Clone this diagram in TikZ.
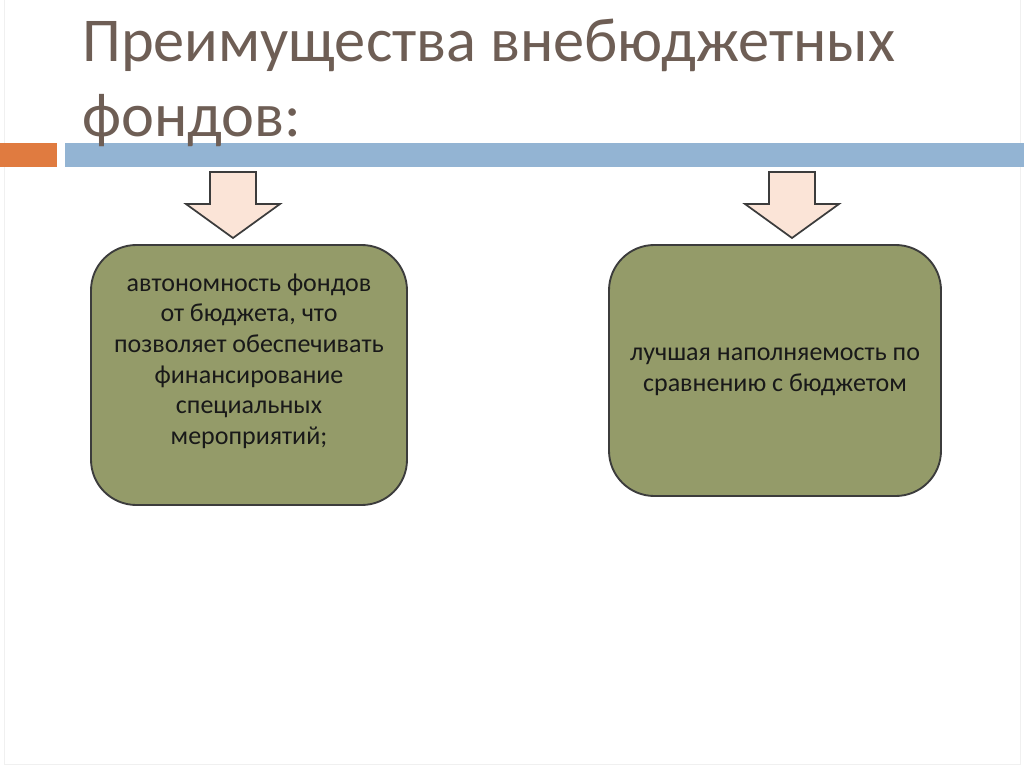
\documentclass[tikz,border=0pt]{standalone}
\usepackage{fontspec}
\setmainfont{Carlito}
\usetikzlibrary{positioning}
\definecolor{Title}{HTML}{6E5E55}
\definecolor{Orange}{HTML}{E07B40}
\definecolor{Blue}{HTML}{93B4D3}
\definecolor{Olive}{HTML}{949B69}
\definecolor{Peach}{HTML}{FBE4D7}
\definecolor{Ink}{HTML}{3C3C3C}

\begin{document}
\begin{tikzpicture}[x=0.75pt,y=-0.75pt,
  advbox/.style={draw=Ink,line width=1.4pt,fill=Olive,rounded corners=34pt,inner sep=0pt},
  advtext/.style={align=center,font=\fontsize{19.5}{23}\selectfont,text=black!90},
  downarrow/.style={draw=Ink,line width=1.3pt,fill=Peach,line join=miter}]
\useasboundingbox (0,0) rectangle (1024,767);
% Page frame and header bars.
\draw[black!6] (4,0)--(4,764)--(1020,764)--(1020,0);
\fill[Orange] (0,143) rectangle (57,167);
\fill[Blue] (65,143) rectangle (1024,167);
\node[anchor=north west,align=left,text=Title,inner sep=0pt,
  font=\fontsize{46.8}{56}\selectfont] (title) at (82,19)
  {Преимущества внебюджетных\\фондов:};

% Block arrows.
\coordinate (lefttip) at (233,238);
\coordinate (righttip) at (792,238);
\foreach \t in {lefttip,righttip} {
  \draw[downarrow] (\t) -- ++(47,-34) -- ++(-24,0) -- ++(0,-32)
    -- ++(-46,0) -- ++(0,32) -- ++(-24,0) -- cycle;
}

% Advantage boxes.
\node[advbox,minimum width=316*0.75pt,minimum height=260*0.75pt] (leftbox) at (249,375) {};
\node[advbox,minimum width=332*0.75pt,minimum height=251*0.75pt] (rightbox) at (775,370.5) {};
\node[advtext] (lefttext) at ([yshift=10.5pt]leftbox.center)
  {автономность фондов\\от бюджета, что\\позволяет обеспечивать\\финансирование\\специальных\\мероприятий;};
\node[advtext] (righttext) at ([yshift=-1pt]rightbox.center)
  {лучшая наполняемость по\\сравнению с бюджетом};
\end{tikzpicture}
\end{document}
